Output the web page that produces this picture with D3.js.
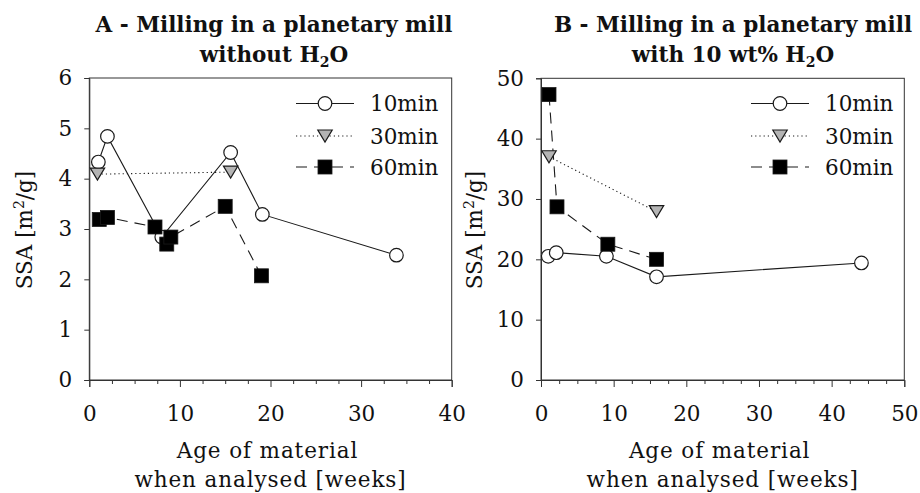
<!DOCTYPE html>
<html>
<head>
<meta charset="utf-8">
<script src="https://cdn.jsdelivr.net/npm/d3@7"></script>
<style>
  html, body { margin: 0; padding: 0; background: #fff; }
  svg text { font-family: "DejaVu Serif", serif; fill: #111; }
</style>
</head>
<body>
<svg id="chart" width="920" height="493"></svg>
<script>
// Milling time series: age of material (weeks) and specific surface area (m²/g)
const seriesNames = ["10min", "30min", "60min"];

// Panel A — planetary mill, dry
const weeksA10 = [1.0, 2.0, 8.0, 15.6, 19.1, 33.9];
const ssaA10   = [4.33, 4.84, 2.84, 4.52, 3.29, 2.48];
const weeksA30 = [0.9, 15.6];
const ssaA30   = [4.09, 4.13];
const weeksA60 = [1.1, 2.0, 7.25, 8.55, 9.0, 15.0, 19.0];
const ssaA60   = [3.19, 3.23, 3.04, 2.70, 2.84, 3.45, 2.07];

// Panel B — planetary mill, 10 wt% water
const weeksB10 = [1.0, 2.1, 9.0, 15.9, 44.1];
const ssaB10   = [20.5, 21.1, 20.5, 17.1, 19.4];
const weeksB30 = [1.1, 15.9];
const ssaB30   = [37.0, 27.9];
const weeksB60 = [1.1, 2.2, 9.2, 15.9];
const ssaB60   = [47.3, 28.7, 22.5, 20.0];

const ticksAx = [0, 10, 20, 30, 40];
const ticksAy = [0, 1, 2, 3, 4, 5, 6];
const ticksBx = [0, 10, 20, 30, 40, 50];
const ticksBy = [0, 10, 20, 30, 40, 50];

const svg = d3.select("#chart");
const ink = "#1a1a1a";
const fs = 21.5;

const styles = [
  { dash: null,    marker: "circle",   fill: "#fff" },
  { dash: "1.2,3", marker: "triangle", fill: "#b4b4b4" },
  { dash: "11,7",  marker: "square",   fill: "#000" }
];

function drawMarker(g, kind, fill, x, y) {
  if (kind === "circle") {
    g.append("circle").attr("cx", x).attr("cy", y).attr("r", 6.8)
      .attr("fill", fill).attr("stroke", ink).attr("stroke-width", 1.2);
  } else if (kind === "square") {
    g.append("rect").attr("x", x - 7).attr("y", y - 7).attr("width", 14).attr("height", 14)
      .attr("fill", fill).attr("stroke", ink).attr("stroke-width", 0.8);
  } else {
    const w = 7.2, h = 12;
    g.append("path")
      .attr("d", `M${x - w},${y - h / 2}L${x + w},${y - h / 2}L${x},${y + h / 2}Z`)
      .attr("fill", fill).attr("stroke", ink).attr("stroke-width", 1.2);
  }
}

function panel(opts) {
  const { x0, x1, y0, y1, xMax, yMax, xTicks, yTicks, data, title, titleX, legendX, ylabelX } = opts;
  const x = d3.scaleLinear().domain([0, xMax]).range([x0, x1]);
  const y = d3.scaleLinear().domain([0, yMax]).range([y1, y0]);
  const g = svg.append("g");

  // frame
  g.append("rect").attr("x", x0).attr("y", y0).attr("width", x1 - x0).attr("height", y1 - y0)
    .attr("fill", "none").attr("stroke", "#333").attr("stroke-width", 1);

  // minor x ticks every 2.5 weeks
  const minor = d3.range(0, xMax + 0.001, 2.5).filter(v => v % 10 !== 0);
  g.append("g").attr("transform", `translate(0,${y1})`)
    .call(d3.axisBottom(x).tickValues(minor).tickSize(4).tickFormat(""))
    .call(a => a.select(".domain").remove())
    .selectAll("line").attr("stroke", "#333");

  const xa = g.append("g").attr("transform", `translate(0,${y1})`)
    .call(d3.axisBottom(x).tickValues(xTicks).tickSize(7).tickPadding(19).tickFormat(d3.format("d")));
  xa.select(".domain").attr("stroke", "#333");
  xa.selectAll("line").attr("stroke", "#333");
  xa.selectAll("text").attr("font-size", fs).attr("fill", "#111").attr("font-family", "DejaVu Serif, serif");

  const ya = g.append("g").attr("transform", `translate(${x0},0)`)
    .call(d3.axisLeft(y).tickValues(yTicks).tickSize(5).tickPadding(12).tickFormat(d3.format("d")));
  ya.select(".domain").attr("stroke", "#333");
  ya.selectAll("line").attr("stroke", "#333");
  ya.selectAll("text").attr("font-size", fs).attr("fill", "#111").attr("font-family", "DejaVu Serif, serif");

  // lines
  const line = d3.line().x(d => x(d[0])).y(d => y(d[1]));
  data.forEach((s, i) => {
    g.append("path").datum(s).attr("d", line).attr("fill", "none")
      .attr("stroke", ink).attr("stroke-width", 1.1)
      .attr("stroke-dasharray", styles[i].dash);
  });
  // markers
  data.forEach((s, i) => {
    s.forEach(d => drawMarker(g, styles[i].marker, styles[i].fill, x(d[0]), y(d[1])));
  });

  // legend
  const rows = [103.5, 136, 167];
  seriesNames.forEach((name, i) => {
    const ly = rows[i];
    g.append("line").attr("x1", legendX).attr("x2", legendX + 58).attr("y1", ly).attr("y2", ly)
      .attr("stroke", ink).attr("stroke-width", 1.1).attr("stroke-dasharray", styles[i].dash);
    drawMarker(g, styles[i].marker, styles[i].fill, legendX + 29, ly);
    g.append("text").attr("x", legendX + 74).attr("y", ly + 7.5).attr("font-size", fs).text(name);
  });

  // title
  const t = g.append("text").attr("text-anchor", "middle").attr("font-size", 21.5)
    .attr("font-weight", "bold");
  t.append("tspan").attr("x", titleX).attr("y", 32).text(title[0]);
  const t2 = t.append("tspan").attr("x", titleX).attr("y", 62).text(title[1]);
  t2.append("tspan").attr("dy", 5).attr("font-size", 14).text("2");
  t2.append("tspan").attr("dy", -5).text("O");

  // x axis title
  const xt = g.append("text").attr("text-anchor", "middle").attr("font-size", fs)
    .attr("letter-spacing", 0.9);
  xt.append("tspan").attr("x", (x0 + x1) / 2 - 3).attr("y", 458).text("Age of material");
  xt.append("tspan").attr("x", (x0 + x1) / 2).attr("y", 487).text("when analysed [weeks]");

  // y axis title
  const yt = g.append("text").attr("text-anchor", "middle").attr("font-size", fs)
    .attr("transform", `translate(${ylabelX},230) rotate(-90)`);
  yt.append("tspan").text("SSA [m");
  yt.append("tspan").attr("dy", -8).attr("font-size", 14).text("2");
  yt.append("tspan").attr("dy", 8).text("/g]");
}

const zip = (a, b) => a.map((v, i) => [v, b[i]]);

panel({
  x0: 89.3, x1: 451.7, y0: 78, y1: 380, xMax: 40, yMax: 6,
  xTicks: ticksAx, yTicks: ticksAy,
  data: [zip(weeksA10, ssaA10), zip(weeksA30, ssaA30), zip(weeksA60, ssaA60)],
  title: ["A - Milling in a planetary mill", "without H"],
  titleX: 274, legendX: 296, ylabelX: 32
});

panel({
  x0: 541, x1: 904.3, y0: 78.3, y1: 380, xMax: 50, yMax: 50,
  xTicks: ticksBx, yTicks: ticksBy,
  data: [zip(weeksB10, ssaB10), zip(weeksB30, ssaB30), zip(weeksB60, ssaB60)],
  title: ["B - Milling in a planetary mill", "with 10 wt% H"],
  titleX: 733, legendX: 751, ylabelX: 482
});
</script>
</body>
</html>
